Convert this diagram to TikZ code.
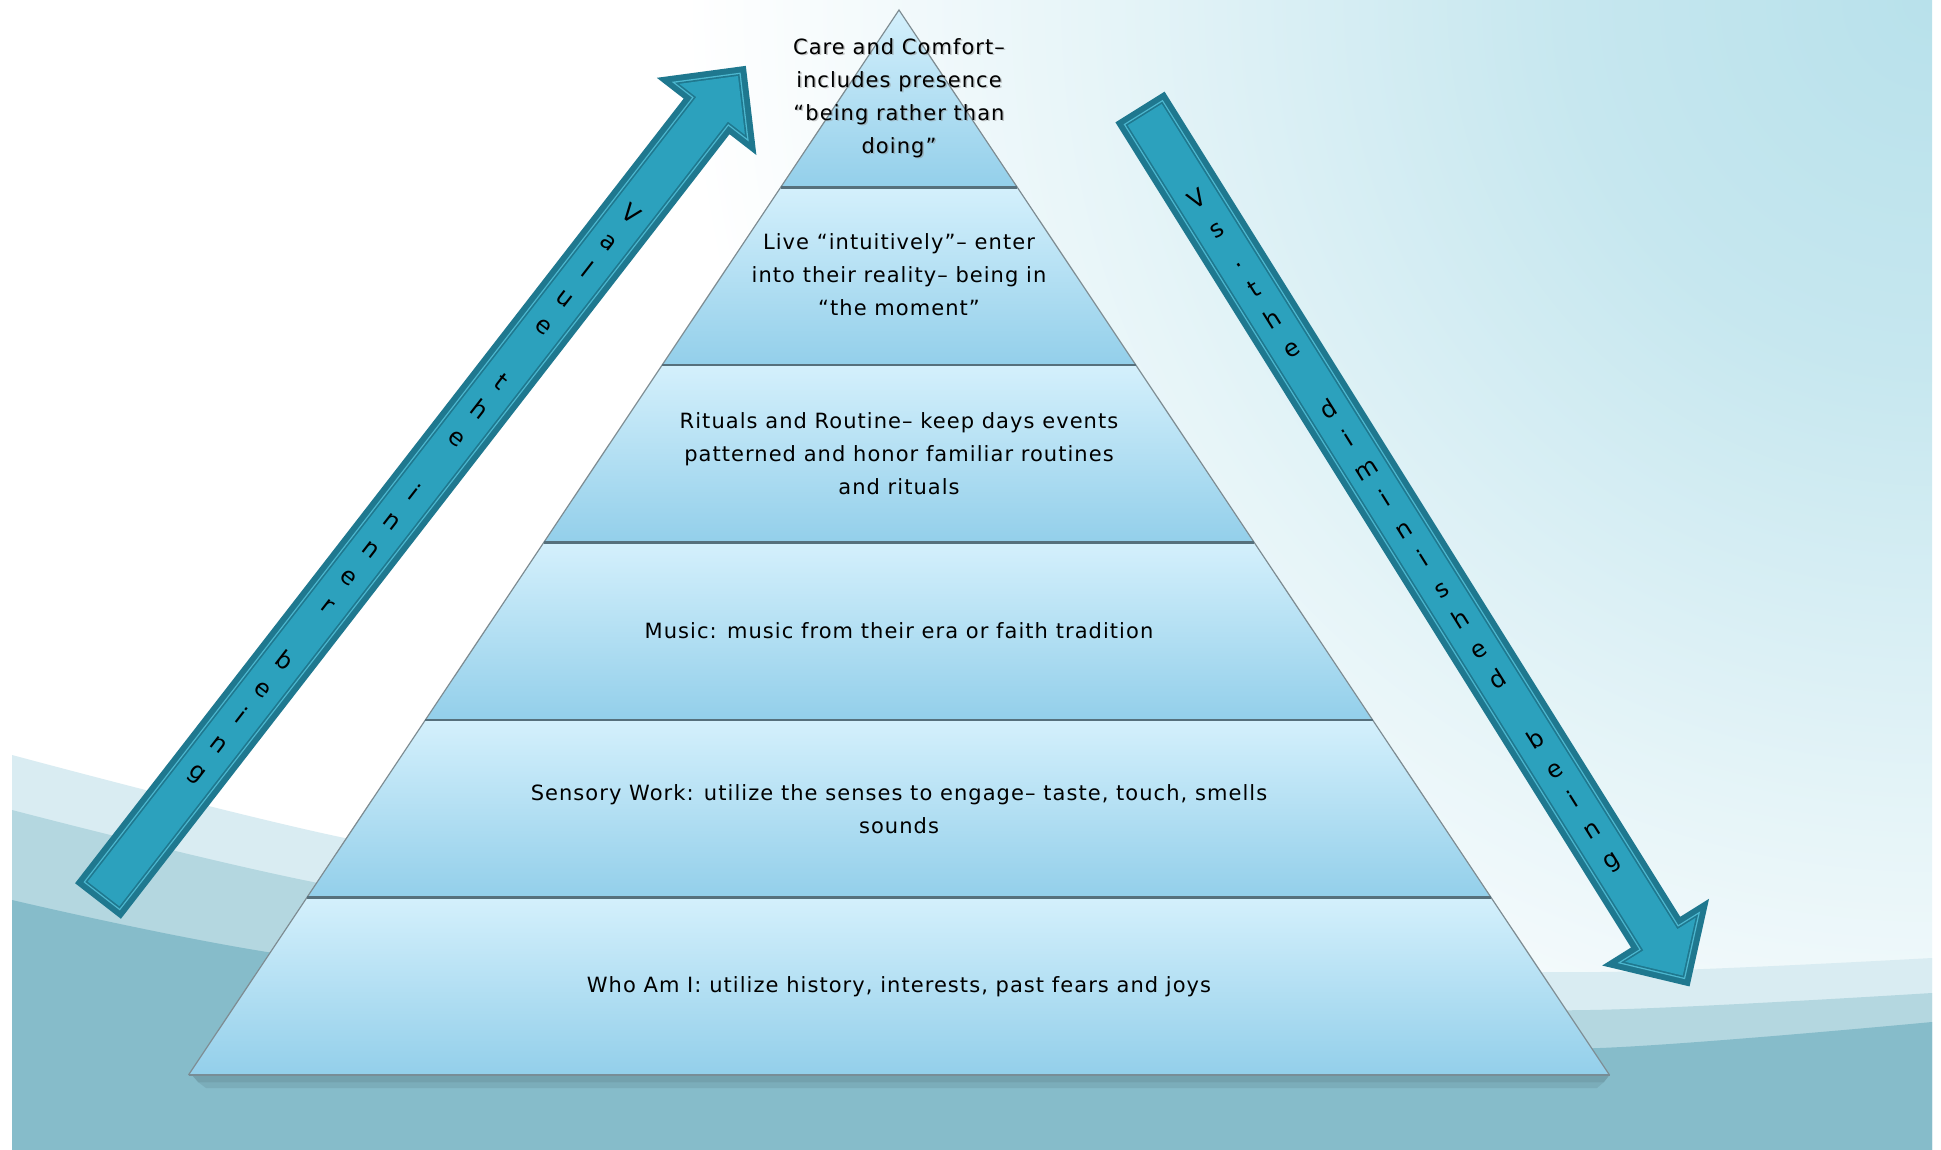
\documentclass[tikz,border=0pt]{standalone}
\usepackage{fontspec}
\setmainfont{DejaVu Sans}[LetterSpace=5.0]
\newfontfamily\arrfont{DejaVu Sans}
\definecolor{laytop}{HTML}{D4F0FC}
\definecolor{laybot}{HTML}{93CFEA}
\definecolor{sepcol}{HTML}{56707C}
\definecolor{edgecol}{HTML}{7E8C92}
\definecolor{arrdark}{HTML}{1F788F}
\definecolor{arrfill}{HTML}{2CA1BD}
\definecolor{arrline}{HTML}{4DB8D0}
\definecolor{waveA}{HTML}{D9ECF2}
\definecolor{waveB}{HTML}{B4D7E0}
\definecolor{waveC}{HTML}{86BCCA}
\definecolor{bgcyan}{HTML}{B8E1EB}
\pgfdeclareradialshading{bgshade}{\pgfpoint{0bp}{0bp}}{color(0bp)=(bgcyan); color(7bp)=(bgcyan!80!white); color(16bp)=(bgcyan!35!white); color(24bp)=(white); color(50bp)=(white)}
\newcommand\arrowpath[1]{(#1,{-29+#1}) -- ({\ahb+#1},{-29+#1}) -- ({\ahb+#1},{-(63-#1*(63+\aell)/\ahl)}) -- ({\atl-#1*\aell/63},0) -- ({\ahb+#1},{63-#1*(63+\aell)/\ahl}) -- ({\ahb+#1},{29-#1}) -- (#1,{29-#1}) -- cycle}
\newcommand\drawmyarrow[2]{%
  \pgfmathsetmacro\ahb{#1}\pgfmathsetmacro\atl{#2}%
  \pgfmathsetmacro\ahl{\atl-\ahb}\pgfmathsetmacro\aell{sqrt(\ahl*\ahl+63*63)}%
  \fill[arrdark] \arrowpath{0};
  \fill[arrline] \arrowpath{6};
  \fill[arrdark] \arrowpath{7.3};
  \fill[arrfill] \arrowpath{9};
}
\begin{document}
\begin{tikzpicture}[x=1pt,y=-1pt,
  laytext/.style={align=center, font=\fontsize{21}{33}\selectfont, text=black, inner sep=0pt},
  arrletter/.style={font=\arrfont\fontsize{24}{28}\selectfont, text height=16pt, text depth=5pt, inner sep=0pt, anchor=center, text=black},
  layer/.style={top color=laytop, bottom color=laybot},
  sepline/.style={draw=sepcol, line width=2.5pt},
  edgeline/.style={draw=edgecol, line width=1.2pt}]
\useasboundingbox (0,0) rectangle (1941,1150);
\fill[white] (0,0) rectangle (1941,1150);
% background
\begin{scope}
  \clip (12,0) rectangle (1932,1150);
  \shade[shading=bgshade] (1932,0) circle[radius=1300pt];
  \fill[waveA] plot[smooth] coordinates {(12,755) (340,837) (800,922) (1250,964) (1600,972) (1932,958)} -- (1932,1150) -- (12,1150) -- cycle;
  \fill[waveB] plot[smooth] coordinates {(12,810) (313,882) (800,968) (1250,1004) (1590,1010) (1932,993)} -- (1932,1150) -- (12,1150) -- cycle;
  \fill[waveC] plot[smooth] coordinates {(12,900) (267,952) (800,1027) (1250,1048) (1600,1048) (1932,1022)} -- (1932,1150) -- (12,1150) -- cycle;
\end{scope}
% pyramid shadow
\fill[black, opacity=0.14] (192,1075) -- (1609.5,1075) -- (1604,1082) -- (198,1082) -- cycle;
\fill[black, opacity=0.08] (198,1082) -- (1604,1082) -- (1597,1088) -- (206,1088) -- cycle;
% pyramid layers
\shade[layer] (899,10) -- (1017.4,187.5) -- (780.6,187.5) -- cycle;
\shade[layer] (780.6,187.5) -- (1017.4,187.5) -- (1135.8,365) -- (662.2,365) -- cycle;
\shade[layer] (662.2,365) -- (1135.8,365) -- (1254.3,542.5) -- (543.7,542.5) -- cycle;
\shade[layer] (543.7,542.5) -- (1254.3,542.5) -- (1372.7,720) -- (425.3,720) -- cycle;
\shade[layer] (425.3,720) -- (1372.7,720) -- (1491.1,897.5) -- (306.9,897.5) -- cycle;
\shade[layer] (306.9,897.5) -- (1491.1,897.5) -- (1609.5,1075) -- (188.5,1075) -- cycle;
\draw[edgeline] (188.5,1075) -- (899,10) -- (1609.5,1075);
\draw[draw=sepcol!80, line width=1.2pt] (188.5,1075) -- (1609.5,1075);
\draw[sepline] (780.6,187.5) -- (1017.4,187.5);
\draw[sepline] (662.2,365) -- (1135.8,365);
\draw[sepline] (543.7,542.5) -- (1254.3,542.5);
\draw[sepline] (425.3,720) -- (1372.7,720);
\draw[sepline] (306.9,897.5) -- (1491.1,897.5);
% layer texts
\node[laytext, text=black!45, opacity=0.45] (t1s) at (900.5,99.5) {Care and Comfort–\\includes presence\\“being rather than\\doing”};
\node[laytext] (t1) at (899,98) {Care and Comfort–\\includes presence\\“being rather than\\doing”};
\node[laytext] (t2) at (899,275) {Live “intuitively”– enter\\into their reality– being in\\“the moment”};
\node[laytext] (t3) at (899,454) {Rituals and Routine– keep days events\\patterned and honor familiar routines\\and rituals};
\node[laytext] (t4) at (899,631) {Music: music from their era or faith tradition};
\node[laytext] (t5) at (899,809) {Sensory Work: utilize the senses to engage– taste, touch, smells\\sounds};
\node[laytext] (t6) at (899,987) {Who Am I: utilize history, interests, past fears and joys};
% left arrow
\begin{scope}[shift={(98,901)}, rotate=52.2]
  \drawmyarrow{993}{1057}
  \foreach \k/\c in {0/V,1/a,2/l,3/u,4/e,6/t,7/h,8/e,10/i,11/n,12/n,13/e,14/r,16/b,17/e,18/i,19/n,20/g}
    \node[arrletter, rotate=-37.8] (lv\k) at ({866.7-35.3*\k},0) {\c};
\end{scope}
% right arrow
\begin{scope}[shift={(1140,107)}, rotate=-58.0]
  \drawmyarrow{973}{1037}
  \foreach \k/\c in {0/V,1/s,2/.,3/t,4/h,5/e,7/d,8/i,9/m,10/i,11/n,12/i,13/s,14/h,15/e,16/d,18/b,19/e,20/i,21/n,22/g}
    \node[arrletter, rotate=32] (rv\k) at ({111.2+35.4*\k},0) {\c};
\end{scope}
\end{tikzpicture}
\end{document}
